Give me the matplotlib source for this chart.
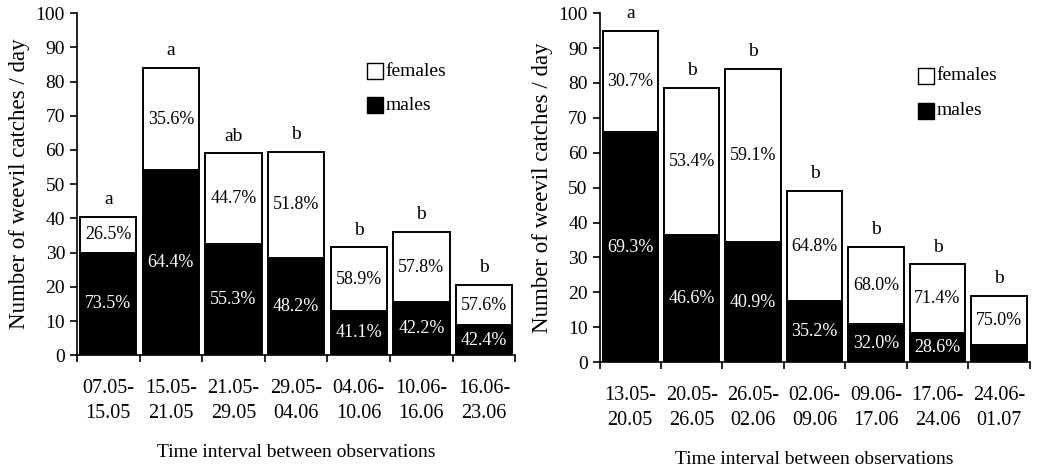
import numpy as np
import matplotlib.pyplot as plt

plt.rcParams['font.family'] = ['Liberation Serif', 'DejaVu Serif']

# left panel
intervals_1 = ['07.05-\n15.05', '15.05-\n21.05', '21.05-\n29.05', '29.05-\n04.06',
               '04.06-\n10.06', '10.06-\n16.06', '16.06-\n23.06']
total_1 = [40.5, 84, 59, 59.5, 31.5, 36, 20.5]
males_1 = [30, 54, 32.5, 28.5, 13, 15.5, 8.8]
fem_pct_1 = ['26.5%', '35.6%', '44.7%', '51.8%', '58.9%', '57.8%', '57.6%']
male_pct_1 = ['73.5%', '64.4%', '55.3%', '48.2%', '41.1%', '42.2%', '42.4%']
letters_1 = ['a', 'a', 'ab', 'b', 'b', 'b', 'b']

# right panel
intervals_2 = ['13.05-\n20.05', '20.05-\n26.05', '26.05-\n02.06', '02.06-\n09.06',
               '09.06-\n17.06', '17.06-\n24.06', '24.06-\n01.07']
total_2 = [95, 78.5, 84, 49, 33, 28, 19]
males_2 = [66, 36.5, 34.5, 17.5, 11, 8.3, 5]
fem_pct_2 = ['30.7%', '53.4%', '59.1%', '64.8%', '68.0%', '71.4%', '75.0%']
male_pct_2 = ['69.3%', '46.6%', '40.9%', '35.2%', '32.0%', '28.6%', '']
letters_2 = ['a', 'b', 'b', 'b', 'b', 'b', 'b']


def draw_panel(ax, labels, total, males, fem_pct, male_pct, letters, leg_x, leg_y):
    x = np.arange(len(labels))
    total = np.array(total)
    males = np.array(males)
    females = total - males
    ax.bar(x, males, width=0.9, color='black', edgecolor='black', linewidth=1.4)
    ax.bar(x, females, bottom=males, width=0.9, color='white',
           edgecolor='black', linewidth=1.4)
    for i in x:
        ax.text(i, males[i] + females[i] / 2, fem_pct[i], ha='center', va='center',
                fontsize=13, color='black')
        if male_pct[i]:
            ax.text(i, males[i] / 2, male_pct[i], ha='center', va='center',
                    fontsize=13, color='white')
        ax.text(i, total[i] + 5, letters[i], ha='center', va='center', fontsize=14)

    ax.set_xlim(-0.5, len(labels) - 0.5)
    ax.set_ylim(0, 100)
    ax.set_yticks(range(0, 101, 10))
    ax.set_xticks(np.arange(len(labels) + 1) - 0.5)
    ax.set_xticklabels([])
    ax.set_xticks(x, minor=True)
    ax.set_xticklabels(labels, minor=True, fontsize=14.5, linespacing=1.45)
    ax.tick_params(axis='x', which='minor', length=0, pad=17)
    ax.tick_params(axis='x', which='major', direction='out', length=5, width=1.2)
    ax.tick_params(axis='y', direction='out', length=5, width=1.2, labelsize=14)
    for s in ['left', 'bottom']:
        ax.spines[s].set_linewidth(1.2)
    for s in ['top', 'right']:
        ax.spines[s].set_visible(False)
    ax.set_ylabel('Number of weevil catches / day', fontsize=16.5, labelpad=4)
    ax.set_xlabel('Time interval between observations', fontsize=14, labelpad=15)

    # legend
    ax.scatter([leg_x], [leg_y], marker='s', s=120, facecolor='white',
               edgecolor='black', linewidth=1, clip_on=False)
    ax.text(leg_x + 0.17, leg_y, 'females', va='center', fontsize=14)
    ax.scatter([leg_x], [leg_y - 10], marker='s', s=120, facecolor='black',
               edgecolor='black', clip_on=False)
    ax.text(leg_x + 0.17, leg_y - 10, 'males', va='center', fontsize=14)


fig = plt.figure(figsize=(10.39, 4.68), dpi=100)
ax1 = fig.add_axes([0.074, 0.241, 0.422, 0.731])
ax2 = fig.add_axes([0.577, 0.226, 0.414, 0.746])

draw_panel(ax1, intervals_1, total_1, males_1, fem_pct_1, male_pct_1, letters_1,
           4.26, 83)
draw_panel(ax2, intervals_2, total_2, males_2, fem_pct_2, male_pct_2, letters_2,
           4.81, 82)

fig.savefig('out.png', dpi=100)
